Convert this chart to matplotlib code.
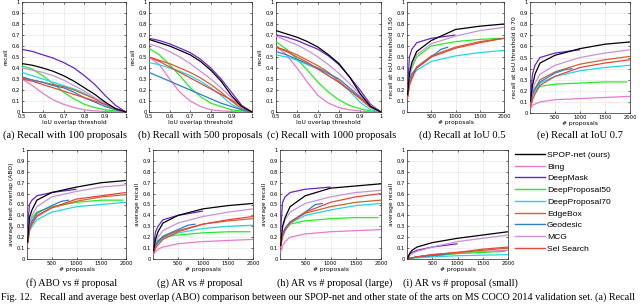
import matplotlib
matplotlib.use("Agg")
import matplotlib.pyplot as plt
from matplotlib.lines import Line2D

# ---------------- data ----------------
methods = ["SPOP-net (ours)", "Bing", "DeepMask", "DeepProposal50", "DeepProposal70",
           "EdgeBox", "Geodesic", "MCG", "Sel Search"]
colors = ["#000000", "#e87ac8", "#6a22cc", "#22ee22", "#22d6e6",
          "#d4602c", "#2f7fc6", "#c892d8", "#e8453c"]

iou = [0.5, 0.55, 0.6, 0.65, 0.7, 0.75, 0.8, 0.85, 0.9, 0.95, 1.0]

recall_100 = {
    "SPOP-net (ours)": [0.44, 0.425, 0.40, 0.37, 0.33, 0.28, 0.22, 0.16, 0.09, 0.03, 0.0],
    "Bing":            [0.30, 0.24, 0.17, 0.11, 0.07, 0.04, 0.02, 0.01, 0.005, 0.0, 0.0],
    "DeepMask":        [0.57, 0.55, 0.52, 0.49, 0.45, 0.40, 0.33, 0.25, 0.15, 0.06, 0.0],
    "DeepProposal50":  [0.42, 0.39, 0.33, 0.26, 0.18, 0.12, 0.07, 0.04, 0.02, 0.01, 0.0],
    "DeepProposal70":  [0.36, 0.33, 0.30, 0.27, 0.24, 0.21, 0.17, 0.12, 0.06, 0.02, 0.0],
    "EdgeBox":         [0.31, 0.29, 0.27, 0.25, 0.23, 0.20, 0.16, 0.12, 0.08, 0.03, 0.0],
    "Geodesic":        [0.32, 0.29, 0.27, 0.24, 0.22, 0.18, 0.13, 0.09, 0.05, 0.02, 0.0],
    "MCG":             [0.40, 0.38, 0.36, 0.33, 0.29, 0.24, 0.19, 0.13, 0.08, 0.03, 0.0],
    "Sel Search":      [0.30, 0.28, 0.25, 0.22, 0.19, 0.16, 0.13, 0.10, 0.07, 0.03, 0.0],
}
recall_500 = {
    "SPOP-net (ours)": [0.66, 0.63, 0.60, 0.56, 0.52, 0.46, 0.38, 0.28, 0.15, 0.05, 0.0],
    "Bing":            [0.50, 0.43, 0.30, 0.18, 0.10, 0.05, 0.02, 0.01, 0.005, 0.0, 0.0],
    "DeepMask":        [0.67, 0.65, 0.62, 0.58, 0.54, 0.48, 0.40, 0.30, 0.18, 0.06, 0.0],
    "DeepProposal50":  [0.58, 0.52, 0.43, 0.33, 0.22, 0.14, 0.08, 0.05, 0.02, 0.01, 0.0],
    "DeepProposal70":  [0.45, 0.43, 0.40, 0.37, 0.33, 0.28, 0.22, 0.15, 0.07, 0.02, 0.0],
    "EdgeBox":         [0.50, 0.47, 0.44, 0.40, 0.36, 0.31, 0.25, 0.18, 0.10, 0.03, 0.0],
    "Geodesic":        [0.36, 0.32, 0.28, 0.24, 0.20, 0.16, 0.12, 0.08, 0.05, 0.02, 0.0],
    "MCG":             [0.62, 0.59, 0.55, 0.50, 0.44, 0.37, 0.30, 0.22, 0.13, 0.05, 0.0],
    "Sel Search":      [0.50, 0.46, 0.41, 0.36, 0.31, 0.26, 0.21, 0.16, 0.11, 0.05, 0.0],
}
recall_1000 = {
    "SPOP-net (ours)": [0.74, 0.71, 0.68, 0.64, 0.59, 0.52, 0.44, 0.32, 0.17, 0.05, 0.0],
    "Bing":            [0.60, 0.52, 0.40, 0.27, 0.15, 0.08, 0.04, 0.02, 0.01, 0.0, 0.0],
    "DeepMask":        [0.70, 0.68, 0.65, 0.61, 0.57, 0.51, 0.43, 0.32, 0.20, 0.07, 0.0],
    "DeepProposal50":  [0.64, 0.57, 0.48, 0.38, 0.27, 0.18, 0.11, 0.06, 0.03, 0.01, 0.0],
    "DeepProposal70":  [0.52, 0.50, 0.47, 0.43, 0.39, 0.33, 0.27, 0.19, 0.09, 0.02, 0.0],
    "EdgeBox":         [0.59, 0.56, 0.52, 0.47, 0.42, 0.36, 0.28, 0.20, 0.12, 0.04, 0.0],
    "Geodesic":        [0.55, 0.52, 0.48, 0.44, 0.40, 0.35, 0.30, 0.22, 0.14, 0.05, 0.0],
    "MCG":             [0.69, 0.65, 0.61, 0.56, 0.50, 0.43, 0.35, 0.26, 0.16, 0.06, 0.0],
    "Sel Search":      [0.59, 0.55, 0.50, 0.45, 0.39, 0.33, 0.27, 0.20, 0.13, 0.05, 0.0],
}

# number of proposals at which each method was evaluated
n_full = [10, 50, 100, 200, 500, 1000, 1500, 2000]
n_deepmask = [10, 50, 100, 200, 500, 1000]
n_geodesic = [10, 50, 100, 200, 500, 700, 850]
n_dp50 = [10, 50, 100, 200, 500, 1000, 1500, 1950]
n_props = {"SPOP-net (ours)": n_full, "Bing": n_full, "DeepMask": n_deepmask,
           "DeepProposal50": n_dp50, "DeepProposal70": n_full, "EdgeBox": n_full,
           "Geodesic": n_geodesic, "MCG": n_full, "Sel Search": n_full}

recall_iou50 = {
    "SPOP-net (ours)": [0.15, 0.35, 0.45, 0.55, 0.65, 0.75, 0.78, 0.80],
    "DeepMask":        [0.20, 0.50, 0.57, 0.63, 0.67, 0.70],
    "DeepProposal50":  [0.15, 0.33, 0.40, 0.50, 0.60, 0.64, 0.66, 0.67],
    "DeepProposal70":  [0.15, 0.28, 0.33, 0.38, 0.46, 0.51, 0.54, 0.56],
    "EdgeBox":         [0.13, 0.26, 0.32, 0.41, 0.51, 0.59, 0.64, 0.67],
    "Geodesic":        [0.15, 0.30, 0.35, 0.40, 0.50, 0.57, 0.59],
    "MCG":             [0.15, 0.33, 0.42, 0.52, 0.62, 0.69, 0.74, 0.77],
    "Sel Search":      [0.12, 0.24, 0.30, 0.40, 0.50, 0.58, 0.63, 0.67],
}
recall_iou70 = {
    "SPOP-net (ours)": [0.10, 0.25, 0.35, 0.45, 0.52, 0.58, 0.62, 0.64],
    "Bing":            [0.04, 0.07, 0.08, 0.10, 0.12, 0.13, 0.14, 0.15],
    "DeepMask":        [0.15, 0.35, 0.43, 0.50, 0.54, 0.57],
    "DeepProposal50":  [0.08, 0.16, 0.20, 0.24, 0.26, 0.27, 0.28, 0.28],
    "DeepProposal70":  [0.08, 0.15, 0.20, 0.27, 0.33, 0.38, 0.41, 0.43],
    "EdgeBox":         [0.08, 0.17, 0.22, 0.30, 0.37, 0.44, 0.48, 0.51],
    "Geodesic":        [0.10, 0.18, 0.22, 0.28, 0.36, 0.39, 0.40],
    "MCG":             [0.10, 0.20, 0.27, 0.35, 0.43, 0.50, 0.54, 0.57],
    "Sel Search":      [0.05, 0.12, 0.17, 0.25, 0.33, 0.41, 0.45, 0.48],
}
abo = {
    "SPOP-net (ours)": [0.15, 0.38, 0.45, 0.54, 0.61, 0.66, 0.70, 0.72],
    "DeepMask":        [0.28, 0.50, 0.54, 0.58, 0.61, 0.64],
    "DeepProposal50":  [0.15, 0.33, 0.38, 0.43, 0.48, 0.52, 0.54, 0.54],
    "DeepProposal70":  [0.14, 0.25, 0.30, 0.36, 0.43, 0.48, 0.50, 0.52],
    "EdgeBox":         [0.15, 0.28, 0.33, 0.40, 0.47, 0.53, 0.57, 0.59],
    "Geodesic":        [0.15, 0.30, 0.35, 0.42, 0.49, 0.53, 0.54],
    "MCG":             [0.15, 0.33, 0.40, 0.48, 0.57, 0.62, 0.66, 0.68],
    "Sel Search":      [0.13, 0.27, 0.32, 0.39, 0.47, 0.55, 0.58, 0.61],
}
ar_all = {
    "SPOP-net (ours)": [0.07, 0.18, 0.25, 0.33, 0.40, 0.46, 0.49, 0.51],
    "Bing":            [0.04, 0.07, 0.09, 0.11, 0.14, 0.16, 0.17, 0.18],
    "DeepMask":        [0.10, 0.25, 0.30, 0.36, 0.40, 0.44],
    "DeepProposal50":  [0.06, 0.14, 0.17, 0.20, 0.22, 0.24, 0.25, 0.25],
    "DeepProposal70":  [0.06, 0.12, 0.15, 0.19, 0.24, 0.28, 0.30, 0.31],
    "EdgeBox":         [0.06, 0.12, 0.16, 0.20, 0.26, 0.32, 0.35, 0.37],
    "Geodesic":        [0.07, 0.13, 0.16, 0.21, 0.27, 0.31, 0.32],
    "MCG":             [0.07, 0.15, 0.20, 0.26, 0.33, 0.39, 0.43, 0.46],
    "Sel Search":      [0.05, 0.10, 0.13, 0.18, 0.25, 0.32, 0.36, 0.39],
}
ar_large = {
    "SPOP-net (ours)": [0.12, 0.30, 0.38, 0.48, 0.58, 0.65, 0.67, 0.69],
    "Bing":            [0.06, 0.12, 0.16, 0.20, 0.23, 0.25, 0.26, 0.27],
    "DeepMask":        [0.25, 0.52, 0.57, 0.61, 0.64, 0.66],
    "DeepProposal50":  [0.12, 0.22, 0.27, 0.32, 0.35, 0.37, 0.38, 0.38],
    "DeepProposal70":  [0.12, 0.22, 0.27, 0.33, 0.40, 0.45, 0.49, 0.51],
    "EdgeBox":         [0.12, 0.23, 0.28, 0.34, 0.42, 0.48, 0.52, 0.54],
    "Geodesic":        [0.12, 0.23, 0.28, 0.34, 0.43, 0.50, 0.51],
    "MCG":             [0.12, 0.28, 0.36, 0.43, 0.51, 0.57, 0.61, 0.63],
    "Sel Search":      [0.10, 0.20, 0.26, 0.33, 0.43, 0.52, 0.57, 0.60],
}
ar_small = {
    "SPOP-net (ours)": [0.00, 0.05, 0.08, 0.11, 0.15, 0.19, 0.22, 0.25],
    "Bing":            [0.00, 0.01, 0.01, 0.02, 0.03, 0.05, 0.07, 0.08],
    "DeepMask":        [0.01, 0.04, 0.06, 0.08, 0.11, 0.14],
    "DeepProposal50":  [0.00, 0.01, 0.01, 0.02, 0.03, 0.05, 0.06, 0.07],
    "DeepProposal70":  [0.00, 0.005, 0.01, 0.01, 0.02, 0.03, 0.035, 0.04],
    "EdgeBox":         [0.00, 0.01, 0.01, 0.02, 0.04, 0.06, 0.08, 0.10],
    "Geodesic":        [0.00, 0.01, 0.01, 0.02, 0.03, 0.04, 0.05],
    "MCG":             [0.00, 0.03, 0.05, 0.07, 0.11, 0.16, 0.19, 0.22],
    "Sel Search":      [0.00, 0.01, 0.01, 0.02, 0.04, 0.06, 0.09, 0.11],
}

captions = ["(a) Recall with 100 proposals", "(b) Recall with 500 proposals",
            "(c) Recall with 1000 proposals", "(d) Recall at IoU 0.5",
            "(e) Recall at IoU 0.7", "(f) ABO vs # proposal", "(g) AR vs # proposal",
            "(h) AR vs # proposal (large)", "(i) AR vs # proposal (small)"]
ylabels = ["recall", "recall", "recall", "recall at IoU threshold 0.50",
           "recall at IoU threshold 0.70", "average best overlap (ABO)",
           "average recall", "average recall", "average recall"]
fig_caption = ("Fig. 12.   Recall and average best overlap (ABO) comparison between our SPOP-net "
               "and other state of the arts on MS COCO 2014 validation set. (a) Recall")

# ---------------- layout ----------------
W, H = 640, 304
fig = plt.figure(figsize=(W / 100, H / 100), dpi=100)

# pixel boxes: (left, right, top, bottom)
boxes = [(22, 126, 2, 112), (149, 252, 2, 112), (276, 381, 2, 112),
         (407, 504, 2, 112), (530, 630, 2, 113),
         (27, 126, 150, 259), (153, 253, 150, 259), (280, 381, 150, 259),
         (407, 508, 150, 259)]
cap_pos = [(65, 135), (200, 135), (332, 135), (462, 135), (580, 135),
           (72, 283), (200, 283), (335, 283), (460, 283)]

panels = [recall_100, recall_500, recall_1000, recall_iou50, recall_iou70,
          abo, ar_all, ar_large, ar_small]

fmt = lambda v: f"{v:g}"
yt = [i / 10 for i in range(11)]

for k, (data, box) in enumerate(zip(panels, boxes)):
    l, r, t, b = box
    ax = fig.add_axes([l / W, 1 - b / H, (r - l) / W, (b - t) / H])
    for m, c in zip(methods, colors):
        if m not in data:
            continue
        xs = iou if k < 3 else n_props[m]
        ax.plot(xs, data[m], color=c, lw=0.9, zorder=3 if m != "SPOP-net (ours)" else 4,
                solid_capstyle="butt")
    if k < 3:
        ax.set_xlim(0.5, 1)
        xt = [0.5, 0.6, 0.7, 0.8, 0.9, 1.0]
        ax.set_xticks(xt)
        ax.set_xticklabels([fmt(v) for v in xt])
        ax.set_xlabel("IoU overlap threshold", fontsize=4.3, labelpad=1)
    else:
        ax.set_xlim(0, 2000)
        xt = [500, 1000, 1500, 2000]
        ax.set_xticks(xt)
        ax.set_xticklabels([fmt(v) for v in xt])
        ax.set_xlabel("# proposals", fontsize=4.3, labelpad=1)
    ax.set_ylim(0, 1)
    ax.set_yticks(yt)
    ax.set_yticklabels([fmt(v) for v in yt])
    ax.set_ylabel(ylabels[k], fontsize=4.3, labelpad=2)
    ax.tick_params(direction="in", length=1.5, width=0.4, labelsize=3.8, pad=1.5,
                   top=True, right=True)
    ax.grid(True, color="#e3e3e3", lw=0.4, zorder=0)
    ax.set_axisbelow(True)
    for s in ax.spines.values():
        s.set_linewidth(0.5)
        s.set_color("#262626")
    cx, cy = cap_pos[k]
    fs = 7.6 if k < 5 else 7.4
    fig.text(cx / W, 1 - cy / H, captions[k], ha="center", va="center",
             fontsize=fs, family="Liberation Serif")

handles = [Line2D([0], [0], color=c, lw=1.0) for c in colors]
fig.legend(handles, methods, loc="upper left", bbox_to_anchor=(515 / W, 1 - 151 / H),
           frameon=False, handlelength=3.5, handletextpad=0.25,
           labelspacing=0.45, borderpad=0, borderaxespad=0,
           prop={"family": "Liberation Sans", "size": 6.1})

fig.text(1 / W, 1 - 297.5 / H, fig_caption, ha="left", va="center", fontsize=7.25,
         family="Liberation Serif")

fig.savefig("out.png", dpi=100)
